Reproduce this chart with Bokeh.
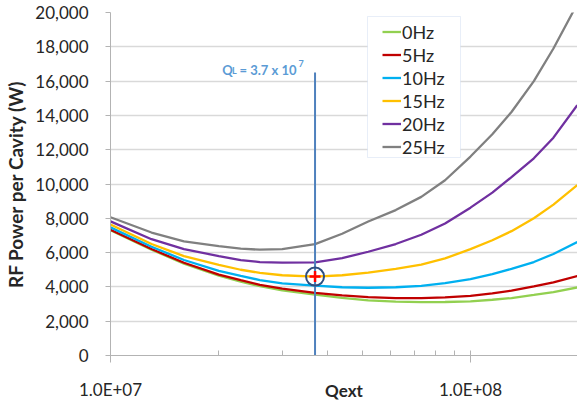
from bokeh.plotting import figure
from bokeh.models import (Range1d, FixedTicker, NumeralTickFormatter, Legend, LegendItem,
                          Label, BoxAnnotation)
from bokeh.embed import file_html
from bokeh.resources import INLINE

# ---- data ----
q_ext = [1.0e7, 1.3e7, 1.6e7, 2.0e7, 2.3e7, 2.6e7, 3.0e7, 3.7e7, 4.4e7, 5.2e7,
         6.2e7, 7.3e7, 8.5e7, 1.0e8, 1.15e8, 1.3e8, 1.5e8, 1.7e8, 1.98e8]
p_0hz = [7300, 6170, 5360, 4650, 4310, 4040, 3800, 3550, 3360, 3220,
         3140, 3110, 3120, 3160, 3250, 3350, 3530, 3700, 3970]
p_5hz = [7330, 6210, 5410, 4720, 4390, 4120, 3900, 3650, 3500, 3400,
         3350, 3340, 3390, 3480, 3620, 3780, 4030, 4270, 4630]
p_10hz = [7470, 6340, 5570, 4940, 4640, 4400, 4200, 4070, 3980, 3950,
          3980, 4060, 4220, 4450, 4750, 5050, 5450, 5920, 6610]
p_15hz = [7640, 6500, 5790, 5290, 5000, 4820, 4680, 4600, 4680, 4830,
          5050, 5300, 5660, 6200, 6720, 7250, 8000, 8800, 9940]
p_20hz = [7820, 6780, 6200, 5800, 5560, 5450, 5410, 5430, 5680, 6050,
          6500, 7040, 7700, 8620, 9500, 10400, 11500, 12700, 14600]
p_25hz = [8060, 7170, 6650, 6380, 6230, 6170, 6200, 6490, 7100, 7810,
          8480, 9250, 10220, 11600, 12900, 14200, 16000, 17900, 20500]
series_names = ["0Hz", "5Hz", "10Hz", "15Hz", "20Hz", "25Hz"]
series_values = [p_0hz, p_5hz, p_10hz, p_15hz, p_20hz, p_25hz]
series_colors = ["#92D050", "#C00000", "#00B0F0", "#FFC000", "#7030A0", "#808080"]

q_loaded = 3.7e7          # vertical marker line
q_line_top = 16500        # top of the vertical marker line (W)
marker_power = 4600       # circled point on the 15Hz curve

x_ticks = [1e7, 1e8]
x_tick_labels = ["1.0E+07", "1.0E+08"]
x_minor_ticks = [2e7, 3e7, 4e7, 5e7, 6e7, 7e7, 8e7, 9e7]
y_ticks = [0, 2000, 4000, 6000, 8000, 10000, 12000, 14000, 16000, 18000, 20000]

FONT = "Lato"
TXT = "#262626"

p = figure(width=577, height=403, x_axis_type="log",
           x_range=Range1d(1e7, 1.983e8), y_range=Range1d(0, 20000),
           output_backend="svg", toolbar_location=None,
           min_border_left=110, min_border_right=0, min_border_top=12, min_border_bottom=47)
p.outline_line_color = None
p.background_fill_color = "white"

# grid
p.xgrid.visible = False
p.ygrid.grid_line_color = "#D9D9D9"
p.ygrid.grid_line_width = 1.3

# x axis
p.xaxis.ticker = FixedTicker(ticks=x_ticks, minor_ticks=x_minor_ticks)
p.xaxis.major_label_overrides = dict(zip(x_ticks, x_tick_labels))
p.xaxis.axis_line_color = "#B3B3B3"
p.xaxis.major_tick_line_color = "#B3B3B3"
p.xaxis.minor_tick_line_color = "#B3B3B3"
p.xaxis.major_tick_in = 5
p.xaxis.major_tick_out = 7
p.xaxis.minor_tick_in = 5
p.xaxis.minor_tick_out = 0
p.xaxis.major_label_standoff = 16
p.xaxis.major_label_text_font = FONT
p.xaxis.major_label_text_font_size = "17px"
p.xaxis.major_label_text_color = TXT
p.xaxis.axis_label = "Qext"
p.xaxis.axis_label_text_font = FONT
p.xaxis.axis_label_text_font_size = "17px"
p.xaxis.axis_label_text_font_style = "bold"
p.xaxis.axis_label_text_color = TXT
p.xaxis.axis_label_standoff = -23

# y axis
p.yaxis.ticker = FixedTicker(ticks=y_ticks)
p.yaxis.formatter = NumeralTickFormatter(format="0,0")
p.yaxis.axis_line_color = "#B3B3B3"
p.yaxis.major_tick_line_color = "#B3B3B3"
p.yaxis.major_tick_in = 0
p.yaxis.major_tick_out = 5
p.yaxis.minor_tick_line_color = None
p.yaxis.major_label_standoff = 17
p.yaxis.major_label_text_font = FONT
p.yaxis.major_label_text_font_size = "17px"
p.yaxis.major_label_text_color = TXT
p.yaxis.axis_label = "RF Power per Cavity (W)"
p.yaxis.axis_label_text_font = FONT
p.yaxis.axis_label_text_font_size = "19px"
p.yaxis.axis_label_text_font_style = "bold"
p.yaxis.axis_label_text_color = TXT
p.yaxis.axis_label_standoff = 5

# curves
renderers = []
for vals, col in zip(series_values, series_colors):
    r = p.line(q_ext, vals, line_color=col, line_width=2.3)
    renderers.append(r)

# vertical Q_L line and circled point
p.line([q_loaded, q_loaded], [0, q_line_top], line_color="#4F81BD", line_width=2)
p.scatter([q_loaded], [marker_power], marker="circle", size=18, fill_color=None,
          line_color="#2F4F80", line_width=2)
p.scatter([q_loaded], [marker_power], marker="cross", size=11, line_color="#FF0000", line_width=2.5)

# Q_L annotation text
lab_col = "#5B9BD5"
for txt, x, y, sz in [("Q", 111.7, 286, "13px"), ("L", 121.5, 285, "9px"),
                      ("= 3.7 x 10", 129, 286, "13px"), ("7", 188, 292, "9px")]:
    p.add_layout(Label(x=x, y=y, x_units="screen", y_units="screen", text=txt,
                       text_font=FONT, text_font_size=sz, text_font_style="bold",
                       text_color=lab_col, text_align="left", text_baseline="alphabetic"))

# legend box and legend
p.add_layout(BoxAnnotation(left=257, right=350, top=339, bottom=198,
                           left_units="screen", right_units="screen",
                           top_units="screen", bottom_units="screen",
                           fill_color="white", fill_alpha=1.0,
                           line_color="#B4C7E7", line_width=1))
legend = Legend(items=[LegendItem(label=n, renderers=[r]) for n, r in zip(series_names, renderers)],
                location=(272, 197), border_line_color=None, background_fill_alpha=0,
                padding=4, spacing=0, margin=0, glyph_width=19, glyph_height=23,
                label_height=23, label_standoff=1, label_text_font=FONT,
                label_text_font_size="18px", label_text_color=TXT)
p.add_layout(legend)

open("out.html", "w").write(file_html(p, INLINE))
